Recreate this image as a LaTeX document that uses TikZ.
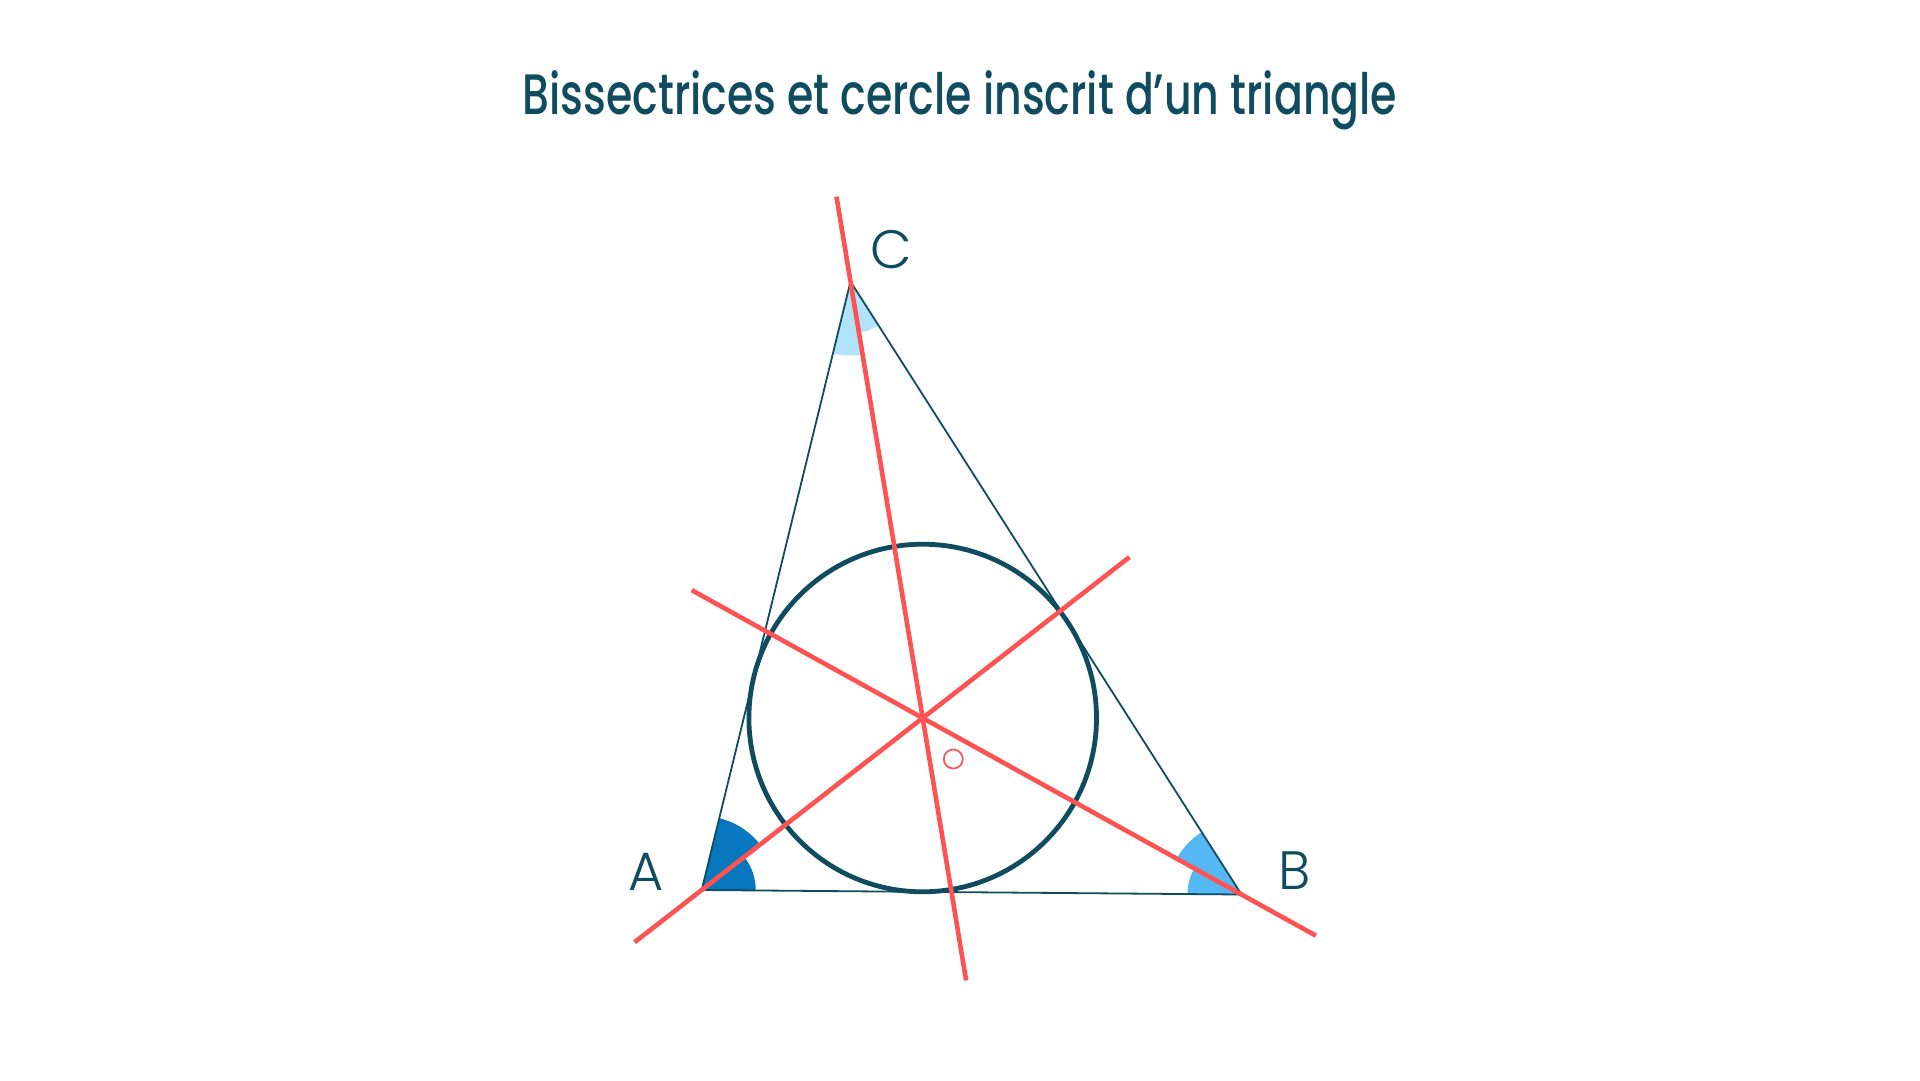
\documentclass[tikz,border=0pt]{standalone}
\usepackage{fontspec}
\usetikzlibrary{calc}
\newfontfamily\titlefont{Poppins Medium}[FakeStretch=0.748]
\newfontfamily\lblfont{Poppins Light}
\definecolor{teal}{HTML}{0F4C5F}
\definecolor{redl}{HTML}{FF5252}
\definecolor{blueA}{HTML}{0878BE}
\definecolor{blueB}{HTML}{55B8F5}
\definecolor{blueC}{HTML}{B1E3FD}
\tikzset{
  side/.style={draw=teal, line width=1.8pt, line join=miter},
  incircle/.style={draw=teal, line width=4.8pt},
  bisector/.style={draw=redl, line width=4.6pt},
  vlabel/.style={text=teal, font=\lblfont\fontsize{54}{60}\selectfont, anchor=base, inner sep=0pt},
  titlelbl/.style={text=teal, font=\titlefont\fontsize{57}{64}\selectfont, anchor=base, inner sep=0pt},
  centremark/.style={circle, draw=redl, line width=1.7pt, minimum size=19pt, inner sep=0pt},
}
\begin{document}
\begin{tikzpicture}[x=1pt, y=-1pt]
\useasboundingbox (0,0) rectangle (1920,1080);
\fill[white] (0,0) rectangle (1920,1080);
% vertices and incentre
\coordinate (A) at (701.7,890);
\coordinate (B) at (1241.5,894.5);
\coordinate (C) at (850.5,281.5);
\coordinate (I) at (922.7,718.0);
% angle marks (two halves with different radii)
\fill[blueA] let \p1=($(B)-(A)$), \p2=($(I)-(A)$), \p3=($(C)-(A)$),
  \n1={atan2(\y1,\x1)}, \n2={atan2(\y2,\x2)}, \n3={atan2(\y3,\x3)} in
  (A) -- ++(\n1:54pt) arc[start angle=\n1, end angle=\n2, radius=54pt] -- (A)
  -- ++(\n2:74pt) arc[start angle=\n2, end angle=\n3, radius=74pt] -- cycle;
\fill[blueB] let \p1=($(A)-(B)$), \p2=($(I)-(B)$), \p3=($(C)-(B)$),
  \n1={atan2(\y1,\x1)}, \n2={atan2(\y2,\x2)}, \n3={atan2(\y3,\x3)} in
  (B) -- ++(\n1:54pt) arc[start angle=\n1, end angle=\n2, radius=54pt] -- (B)
  -- ++(\n2:74pt) arc[start angle=\n2, end angle=\n3, radius=74pt] -- cycle;
\fill[blueC] let \p1=($(A)-(C)$), \p2=($(I)-(C)$), \p3=($(B)-(C)$),
  \n1={atan2(\y1,\x1)}, \n2={atan2(\y2,\x2)}, \n3={atan2(\y3,\x3)} in
  (C) -- ++(\n1:74pt) arc[start angle=\n1, end angle=\n2, radius=74pt] -- (C)
  -- ++(\n2:52pt) arc[start angle=\n2, end angle=\n3, radius=52pt] -- cycle;
% triangle
\draw[side] (A) -- (B) -- (C) -- cycle;
% incircle
\draw[incircle] (I) circle[radius=173.8pt];
% bisectors
\draw[bisector] ($(C)!-86pt!(I)$) -- ($(I)!-266pt!(C)$);
\draw[bisector] ($(A)!-85pt!(I)$) -- ($(I)!-262pt!(A)$);
\draw[bisector] ($(B)!-85pt!(I)$) -- ($(I)!-264pt!(B)$);
% small red mark
\node[centremark] (O) at (953.3,759) {};
% labels
\node[vlabel] (lA) at (646,890.5) {A};
\node[vlabel] (lB) at (1295,889.5) {B};
\node[vlabel] (lC) at (891.7,268.3) {C};
\node[titlelbl] (title) at (960,114) {Bissectrices et cercle inscrit d’un triangle};
\end{tikzpicture}
\end{document}
